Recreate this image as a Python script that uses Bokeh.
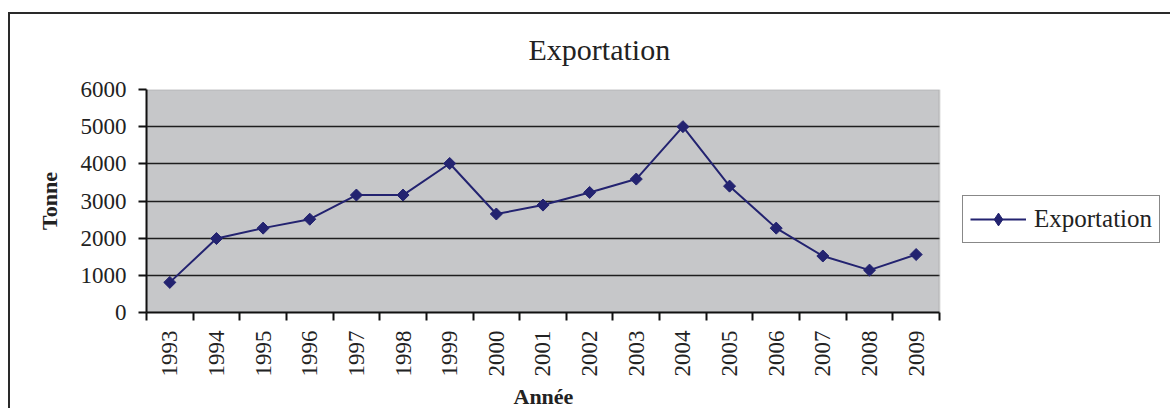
import math
from bokeh.plotting import figure
from bokeh.models import Range1d, FixedTicker, Legend, BoxAnnotation, Title
from bokeh.embed import file_html
from bokeh.resources import INLINE

years = [1993, 1994, 1995, 1996, 1997, 1998, 1999, 2000, 2001,
         2002, 2003, 2004, 2005, 2006, 2007, 2008, 2009]
exportation = [810, 1990, 2270, 2510, 3160, 3160, 4010, 2650, 2890,
               3230, 3590, 5000, 3400, 2270, 1520, 1140, 1560]
y_ticks = [0, 1000, 2000, 3000, 4000, 5000, 6000]

SERIF = "Liberation Serif"
NAVY = "#232370"
PLOT_BG = "#c6c7c9"
TXT = "#222222"

x_lo = years[0] - 0.5
x_hi = years[-1] + 0.5
legend_room = 4.91  # extra x-space (in year units) to the right, where the legend sits
x_end = x_hi + legend_room

p = figure(width=1162, height=396, output_backend="svg", toolbar_location=None,
           x_range=Range1d(x_lo, x_end),
           y_range=Range1d(y_ticks[0], y_ticks[-1]),
           min_border_left=136, min_border_right=4,
           min_border_top=75, min_border_bottom=97)
p.styles = {"margin-left": "8px", "margin-top": "12px",
            "border-left": "2px solid #2a2a2a", "border-top": "2px solid #2a2a2a"}

p.background_fill_color = "white"
p.border_fill_color = "white"
p.outline_line_color = None

# plot-area background (below the grid)
p.add_layout(BoxAnnotation(left=x_lo, right=x_hi, bottom=y_ticks[0], top=y_ticks[-1],
                           fill_color=PLOT_BG, fill_alpha=1, line_color=None,
                           level="image"))

# title
p.title.text = "Exportation"
p.title.text_font = SERIF
p.title.text_font_size = "30px"
p.title.text_font_style = "normal"
p.title.text_color = TXT
p.title.align = "left"
p.title.offset = 382
p.title.standoff = 10
# blank spacer between the title and the plot area
p.add_layout(Title(text=" ", text_font_size="16px", standoff=0), "above")

# grid
p.xgrid.visible = False
p.ygrid.ticker = FixedTicker(ticks=y_ticks)
p.ygrid.grid_line_color = "#1e1e1e"
p.ygrid.grid_line_width = 1.5
if "cross_bounds" in p.ygrid.properties():
    p.ygrid.cross_bounds = (x_lo, x_hi)
else:
    span_y = y_ticks[-1] - y_ticks[0]
    p.add_layout(BoxAnnotation(left=x_hi, right=x_end + legend_room,
                               bottom=y_ticks[0] - span_y, top=y_ticks[-1] + span_y,
                               fill_color="white", fill_alpha=1,
                               line_color=None, level="underlay"))

# grey plot-area border
p.add_layout(BoxAnnotation(left=x_lo, right=x_hi, bottom=y_ticks[0], top=y_ticks[-1],
                           fill_alpha=0, line_color="#8a8a8a", line_width=2,
                           level="underlay"))

# y axis
ya = p.yaxis[0]
ya.ticker = FixedTicker(ticks=y_ticks)
ya.axis_line_color = "#111111"
ya.axis_line_width = 2
ya.major_tick_out = 8
ya.major_tick_in = 0
ya.major_tick_line_color = "#111111"
ya.major_tick_line_width = 2
ya.minor_tick_line_color = None
ya.major_label_text_font = SERIF
ya.major_label_text_font_size = "23px"
ya.major_label_text_color = TXT
ya.major_label_standoff = 12
ya.axis_label = "Tonne"
ya.axis_label_text_font = SERIF
ya.axis_label_text_font_size = "22px"
ya.axis_label_text_font_style = "bold"
ya.axis_label_text_color = TXT
ya.axis_label_standoff = 16

# x axis
xa = p.xaxis[0]
xa.bounds = (x_lo, x_hi)
xa.ticker = FixedTicker(ticks=years,
                        minor_ticks=[y - 0.5 for y in years] + [x_hi])
xa.axis_line_color = "#111111"
xa.axis_line_width = 2
xa.major_tick_line_color = None
xa.major_tick_out = 0
xa.major_tick_in = 0
xa.minor_tick_line_color = "#111111"
xa.minor_tick_line_width = 2
xa.minor_tick_out = 8
xa.minor_tick_in = 0
xa.major_label_orientation = math.pi / 2
xa.major_label_text_font = SERIF
xa.major_label_text_font_size = "23px"
xa.major_label_text_color = TXT
xa.major_label_standoff = 10

# x-axis title, centred under the plot area
p.add_layout(Title(text="Année", align="left", offset=367, standoff=4,
                   text_font=SERIF, text_font_size="22px", text_font_style="bold",
                   text_color=TXT), "below")

# series
ln = p.line(years, exportation, line_color=NAVY, line_width=2)
sc = p.scatter(years, exportation, marker="square", angle=math.pi / 4,
               size=8.5, fill_color=NAVY, line_color=NAVY)
# legend symbol (diamond); hidden in the plot, drawn only in the legend key
key = p.scatter(years, exportation, marker="diamond", size=12,
                fill_color=NAVY, line_color=NAVY, visible=False)

legend = Legend(items=[("Exportation", [ln, key])], location=(816, 69))
legend.border_line_color = "#111111"
legend.border_line_width = 1.5
legend.background_fill_color = "white"
legend.background_fill_alpha = 1
legend.inactive_fill_alpha = 0
legend.label_text_font = SERIF
legend.label_text_font_size = "25px"
legend.label_text_color = TXT
legend.glyph_width = 56
legend.glyph_height = 32
legend.label_standoff = 8
legend.padding = 7
legend.margin = 0
p.add_layout(legend, "center")

open("out.html", "w").write(file_html(p, INLINE))
